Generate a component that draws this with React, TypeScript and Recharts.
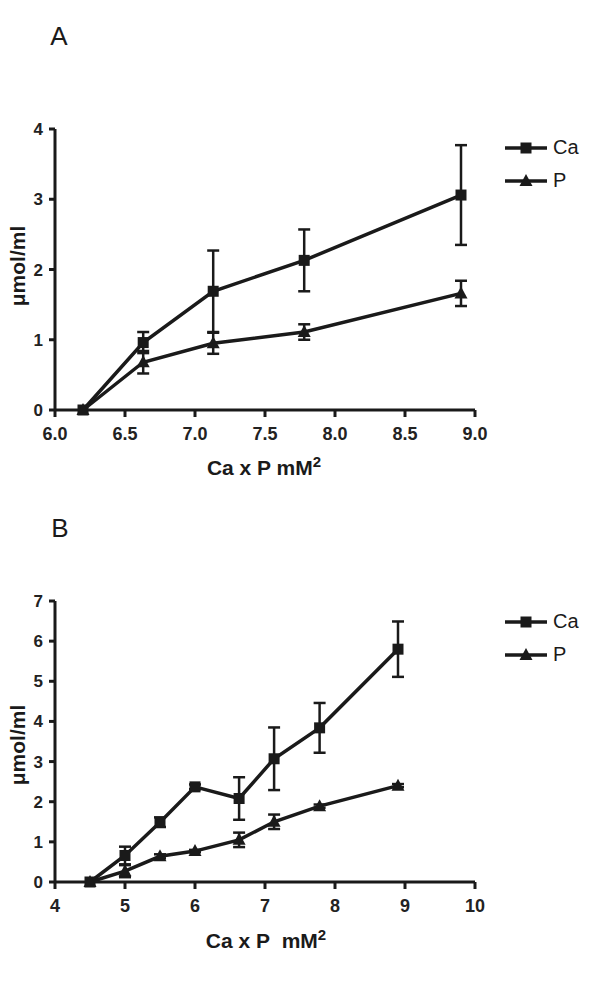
import React from 'react';
import { LineChart, Line, XAxis, YAxis, ErrorBar } from 'recharts';

// Panel A
const xA = [6.2, 6.63, 7.13, 7.78, 8.9];
const caA = [0, 0.96, 1.69, 2.13, 3.06];
const caErrA = [0, 0.15, 0.58, 0.44, 0.71];
const pA = [0, 0.68, 0.95, 1.11, 1.66];
const pErrA = [0, 0.16, 0.15, 0.11, 0.18];
const xTicksA = [6.0, 6.5, 7.0, 7.5, 8.0, 8.5, 9.0];
const yTicksA = [0, 1, 2, 3, 4];

// Panel B
const xB = [4.5, 5.0, 5.5, 6.0, 6.63, 7.13, 7.78, 8.9];
const caB = [0, 0.66, 1.49, 2.37, 2.08, 3.07, 3.84, 5.8];
const caErrB = [0, 0.22, 0.12, 0.06, 0.53, 0.78, 0.62, 0.69];
const pB = [0, 0.27, 0.64, 0.77, 1.05, 1.5, 1.89, 2.4];
const pErrB = [0, 0.15, 0.05, 0.03, 0.18, 0.18, 0.04, 0.04];
const xTicksB = [4, 5, 6, 7, 8, 9, 10];
const yTicksB = [0, 1, 2, 3, 4, 5, 6, 7];

const seriesNames = ['Ca', 'P'];

const FONT = 'Arial, "Liberation Sans", Helvetica, sans-serif';
const INK = '#1a1a1a';

const buildRows = (x: number[], ca: number[], caErr: number[], p: number[], pErr: number[]) =>
  x.map((v, i) => ({ x: v, ca: ca[i], caErr: caErr[i], p: p[i], pErr: pErr[i] }));

const SquareDot = (props: any) => {
  const { cx, cy } = props;
  if (cx == null || cy == null) return null;
  return <rect key={`s-${cx}`} x={cx - 5.5} y={cy - 5.5} width={11} height={11} fill={INK} />;
};

const TriangleDot = (props: any) => {
  const { cx, cy } = props;
  if (cx == null || cy == null) return null;
  return <polygon key={`t-${cx}`} points={`${cx},${cy - 7} ${cx + 6.5},${cy + 5} ${cx - 6.5},${cy + 5}`} fill={INK} />;
};

const LegendMarks = ({ top }: { top: number }) => (
  <div style={{ position: 'absolute', left: 504, top, fontFamily: FONT, fontSize: 20, color: INK }}>
    {seriesNames.map((name, i) => (
      <div key={name} style={{ display: 'flex', alignItems: 'center', height: 33 }}>
        <svg width={44} height={14} style={{ marginRight: 5 }}>
          <line x1={1} y1={7} x2={43} y2={7} stroke={INK} strokeWidth={3.5} />
          {i === 0 ? (
            <rect x={16.5} y={1.5} width={11} height={11} fill={INK} />
          ) : (
            <polygon points="22,0 28.5,12 15.5,12" fill={INK} />
          )}
        </svg>
        <span>{name}</span>
      </div>
    ))}
  </div>
);

const XTick = (props: any) => {
  const { x, y, payload, fmt } = props;
  return (
    <text x={x} y={y + 21} textAnchor="middle" fontFamily={FONT} fontSize={18} fontWeight={700} fill="#222">
      {fmt(payload.value)}
    </text>
  );
};

const YTick = (props: any) => {
  const { x, y, payload } = props;
  return (
    <text x={x - 4} y={y + 6} textAnchor="end" fontFamily={FONT} fontSize={17} fontWeight={700} fill="#222">
      {payload.value}
    </text>
  );
};

type PanelProps = {
  rows: any[];
  xDomain: [number, number];
  xTicks: number[];
  yDomain: [number, number];
  yTicks: number[];
  xFmt: (v: number) => string;
  top: number;
  marginTop: number;
  marginBottom: number;
};

const Panel = ({ rows, xDomain, xTicks, yDomain, yTicks, xFmt, top, marginTop, marginBottom }: PanelProps) => (
  <div style={{ position: 'absolute', left: 0, top }}>
    <LineChart width={600} height={500} data={rows} margin={{ top: marginTop, right: 125, bottom: marginBottom, left: 25 }}>
      <XAxis
        type="number"
        dataKey="x"
        domain={xDomain}
        ticks={xTicks}
        allowDataOverflow
        height={30}
        tick={<XTick fmt={xFmt} />}
        tickSize={7}
        axisLine={{ stroke: INK, strokeWidth: 3 }}
        tickLine={{ stroke: INK, strokeWidth: 3 }}
      />
      <YAxis
        type="number"
        domain={yDomain}
        ticks={yTicks}
        width={30}
        tick={<YTick />}
        tickSize={6}
        axisLine={{ stroke: INK, strokeWidth: 3 }}
        tickLine={{ stroke: INK, strokeWidth: 3 }}
      />
      <Line
        dataKey="ca"
        name="Ca"
        stroke={INK}
        strokeWidth={3.5}
        dot={<SquareDot />}
        activeDot={false}
        isAnimationActive={false}
      >
        <ErrorBar dataKey="caErr" direction="y" width={6} stroke={INK} strokeWidth={2.5} />
      </Line>
      <Line
        dataKey="p"
        name="P"
        stroke={INK}
        strokeWidth={3.5}
        dot={<TriangleDot />}
        activeDot={false}
        isAnimationActive={false}
      >
        <ErrorBar dataKey="pErr" direction="y" width={6} stroke={INK} strokeWidth={2.5} />
      </Line>
    </LineChart>
  </div>
);

const absText = (extra: React.CSSProperties): React.CSSProperties => ({
  position: 'absolute',
  fontFamily: FONT,
  color: INK,
  whiteSpace: 'nowrap',
  lineHeight: 1,
  ...extra,
});

const YTitle = ({ cy }: { cy: number }) => (
  <div
    style={absText({
      left: 17,
      top: cy,
      fontSize: 21,
      fontWeight: 700,
      transform: 'translate(-50%, -50%) rotate(-90deg)',
    })}
  >
    μmol/ml
  </div>
);

const XTitle = ({ cx, cy, text }: { cx: number; cy: number; text: string }) => (
  <div
    style={absText({
      left: cx,
      top: cy,
      fontSize: 21,
      fontWeight: 700,
      transform: 'translate(-50%, -50%)',
    })}
  >
    {text}
    <sup style={{ fontSize: 15 }}>2</sup>
  </div>
);

export default function App() {
  const rowsA = buildRows(xA, caA, caErrA, pA, pErrA);
  const rowsB = buildRows(xB, caB, caErrB, pB, pErrB);
  return (
    <div style={{ position: 'absolute', left: 0, top: 0, width: 600, height: 1000, background: '#fff' }}>
      <div style={absText({ left: 59, top: 36, fontSize: 26, transform: 'translate(-50%, -50%)' })}>A</div>
      <div style={absText({ left: 60, top: 528, fontSize: 26, transform: 'translate(-50%, -50%)' })}>B</div>
      <Panel
        rows={rowsA}
        xDomain={[6, 9]}
        xTicks={xTicksA}
        yDomain={[0, 4]}
        yTicks={yTicksA}
        xFmt={(v) => v.toFixed(1)}
        top={0}
        marginTop={129}
        marginBottom={60}
      />
      <Panel
        rows={rowsB}
        xDomain={[4, 10]}
        xTicks={xTicksB}
        yDomain={[0, 7]}
        yTicks={yTicksB}
        xFmt={(v) => String(v)}
        top={500}
        marginTop={101}
        marginBottom={88}
      />
      <LegendMarks top={131} />
      <LegendMarks top={605} />
      <YTitle cy={266} />
      <YTitle cy={745} />
      <XTitle cx={264} cy={466} text="Ca x P mM" />
      <XTitle cx={266} cy={939} text={'Ca x P\u00a0\u00a0mM'} />
    </div>
  );
}
